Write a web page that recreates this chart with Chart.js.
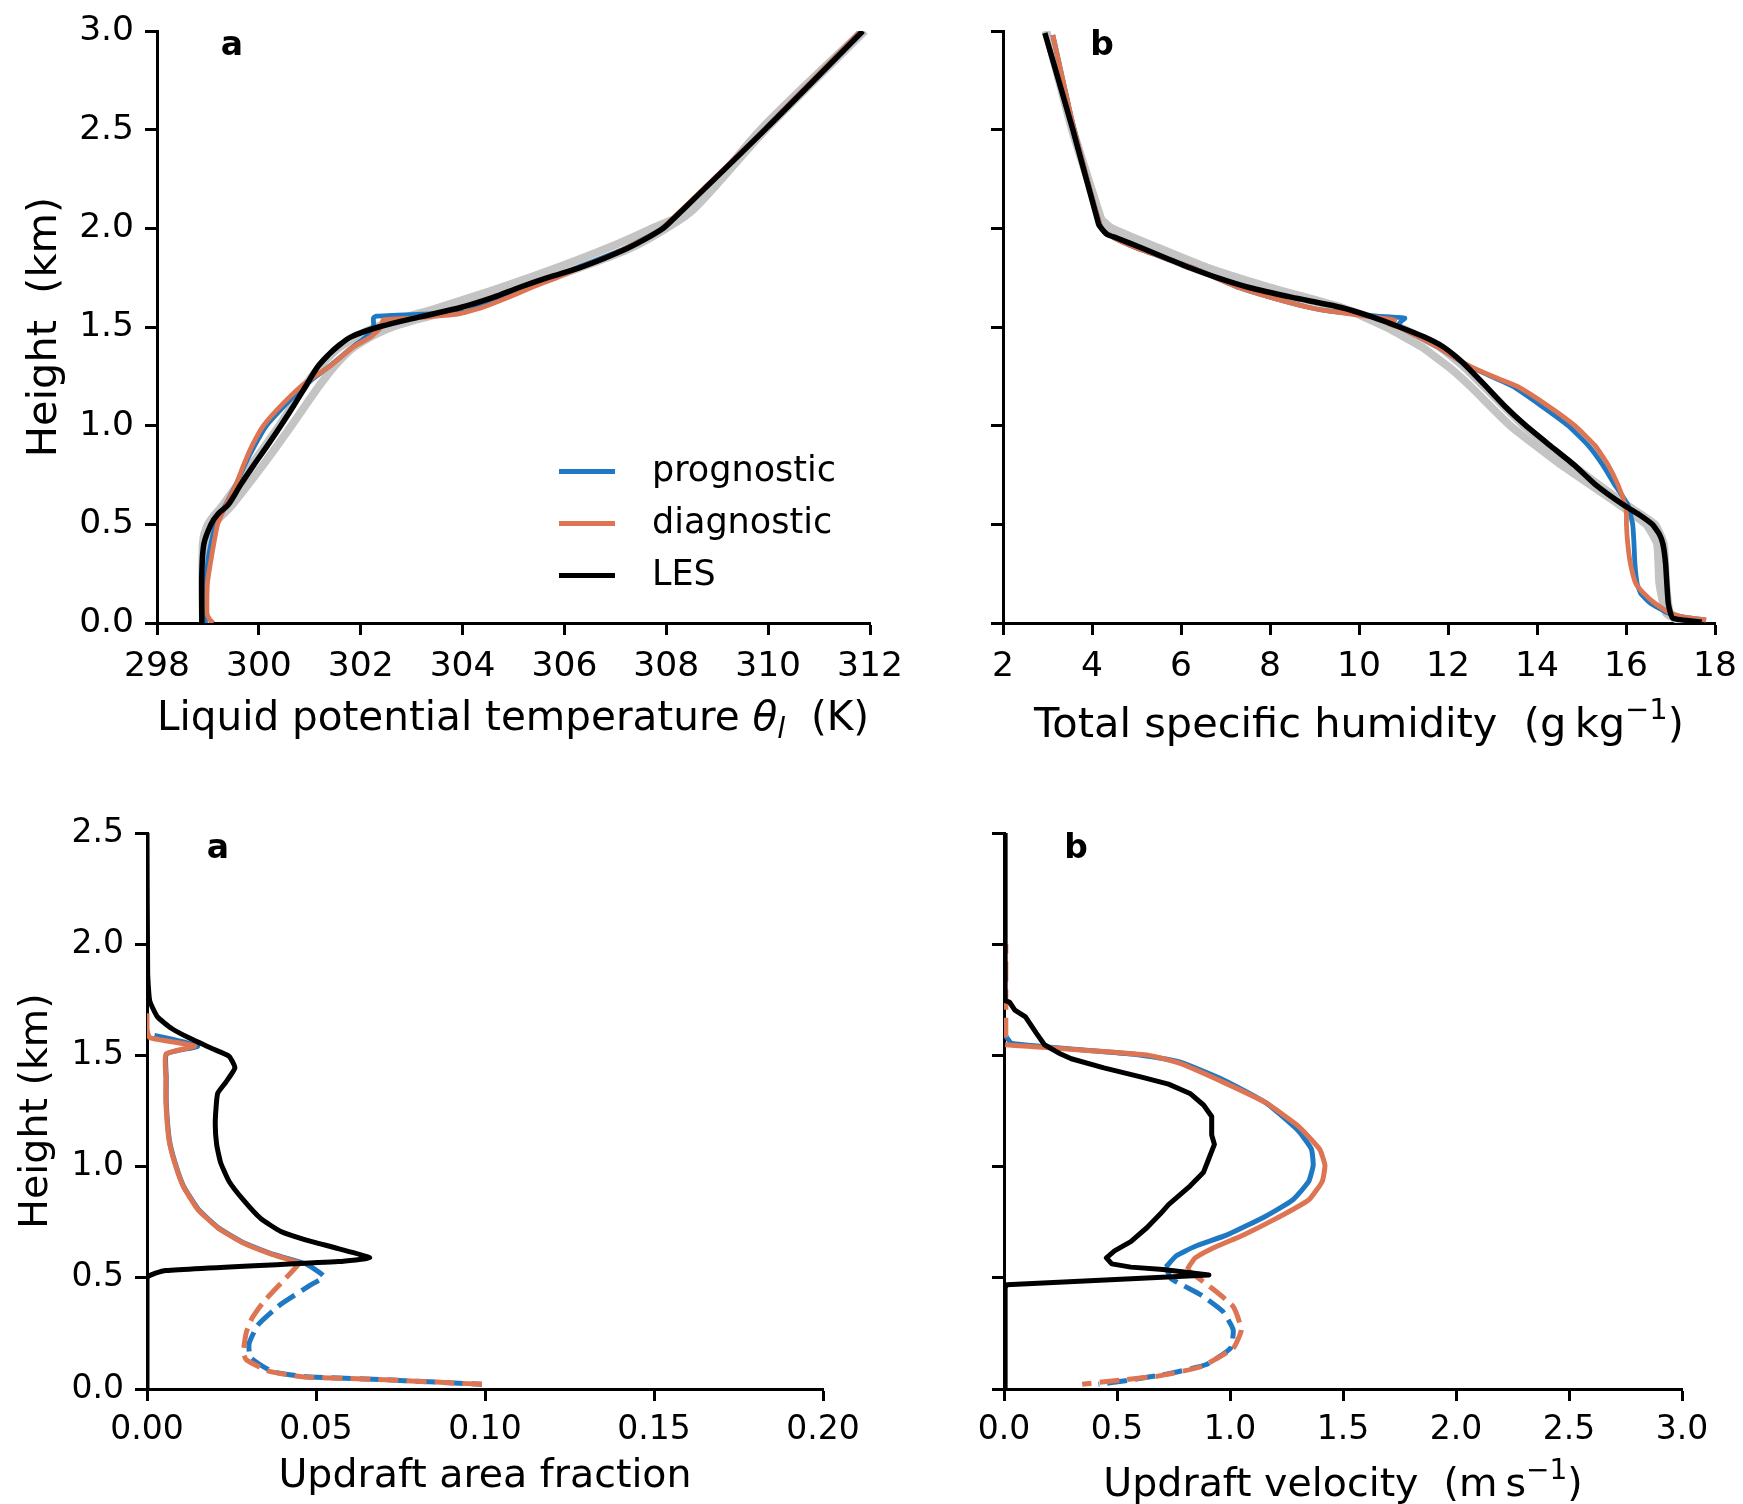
<!DOCTYPE html>
<html><head><meta charset="utf-8">
<script src="https://cdn.jsdelivr.net/npm/chart.js@4.4.1/dist/chart.umd.min.js"></script>
<style>
html,body{margin:0;padding:0;background:#fff;}
#wrap{position:relative;width:1743px;height:1504px;background:#fff;}
#wrap canvas{position:absolute;left:0;top:0;width:1743px;height:1504px;}
</style></head><body><div id="wrap">
<canvas id="c1" width="1743" height="1504"></canvas>
<canvas id="c2" width="1743" height="1504"></canvas>
<canvas id="c3" width="1743" height="1504"></canvas>
<canvas id="c4" width="1743" height="1504"></canvas>
</div>
<script>
// ---------------- DATA ----------------
// tick labels
const thetaTicks = [298, 300, 302, 304, 306, 308, 310, 312];
const qtTicks = [2, 4, 6, 8, 10, 12, 14, 16, 18];
const heightTicksTop = [0, 0.5, 1.0, 1.5, 2.0, 2.5, 3.0];
const areaTicks = [0, 0.05, 0.10, 0.15, 0.20];
const velTicks = [0, 0.5, 1.0, 1.5, 2.0, 2.5, 3.0];
const heightTicksBottom = [0, 0.5, 1.0, 1.5, 2.0, 2.5];
const legendLabels = ['prognostic', 'diagnostic', 'LES'];

// Panel a (top): liquid potential temperature (K) vs height (km)
const thetaLesZ   = [0.0, 0.25, 0.4, 0.5, 0.55, 0.6, 0.7, 0.8, 0.9, 1.0, 1.1, 1.2, 1.3, 1.36, 1.4, 1.45, 1.5, 1.55, 1.6, 1.65, 1.7, 1.75, 1.8, 1.85, 1.9, 1.95, 2.0, 2.05, 2.5, 3.0];
const thetaLesVal = [298.88, 298.88, 298.92, 299.06, 299.19, 299.40, 299.64, 299.90, 300.17, 300.43, 300.68, 300.92, 301.16, 301.37, 301.54, 301.81, 302.35, 303.14, 303.98, 304.60, 305.11, 305.67, 306.29, 306.80, 307.25, 307.62, 307.94, 308.15, 309.94, 311.86];
const thetaDiagZ   = [0.0, 0.02, 0.05, 0.2, 0.35, 0.5, 0.6, 0.7, 0.8, 0.9, 1.0, 1.1, 1.2, 1.25, 1.3, 1.4, 1.45, 1.5, 1.535, 1.545, 1.565, 1.6, 1.65, 1.7, 1.75, 1.8, 1.85, 1.9, 1.95, 2.0, 2.5, 3.0];
const thetaDiagVal = [299.10, 299.03, 298.98, 298.99, 299.08, 299.19, 299.36, 299.55, 299.70, 299.87, 300.09, 300.43, 300.83, 301.10, 301.39, 301.86, 302.20, 302.40, 302.44, 303.00, 303.90, 304.40, 304.90, 305.35, 305.85, 306.30, 306.80, 307.20, 307.60, 307.92, 309.92, 311.82];
const thetaProgZ   = [0.0, 0.2, 0.35, 0.5, 0.6, 0.7, 0.8, 0.9, 1.0, 1.1, 1.2, 1.3, 1.4, 1.45, 1.5, 1.545, 1.555, 1.565, 1.575, 1.6, 1.65, 1.7, 1.8, 1.9, 2.0, 2.5, 3.0];
const thetaProgVal = [298.95, 298.95, 299.02, 299.15, 299.35, 299.55, 299.72, 299.92, 300.15, 300.50, 300.88, 301.38, 301.85, 302.10, 302.25, 302.25, 302.30, 303.20, 304.05, 304.30, 304.85, 305.30, 306.25, 307.20, 307.92, 309.92, 311.82];
const thetaEnsZ   = [0.0, 0.4, 0.5, 0.6, 0.8, 1.0, 1.2, 1.3, 1.4, 1.5, 1.6, 1.7, 1.8, 1.9, 2.0, 2.1, 2.5, 3.0];
const thetaEnsLo  = [298.90, 298.90, 299.00, 299.30, 299.85, 300.40, 300.90, 301.20, 301.60, 302.30, 303.55, 304.75, 305.85, 306.85, 307.72, 308.50, 309.85, 311.85];
const thetaEnsHi  = [298.95, 298.95, 299.12, 299.48, 300.08, 300.64, 301.18, 301.48, 301.88, 302.62, 304.00, 305.20, 306.30, 307.30, 308.00, 308.55, 309.95, 311.90];

// Panel b (top): total specific humidity (g/kg) vs height (km)
const qtLesZ   = [0.005, 0.025, 0.1, 0.3, 0.4, 0.45, 0.5, 0.55, 0.6, 0.7, 0.8, 0.9, 1.0, 1.1, 1.2, 1.3, 1.35, 1.4, 1.45, 1.5, 1.55, 1.6, 1.65, 1.7, 1.75, 1.8, 1.85, 1.9, 1.95, 1.97, 2.0, 2.02, 2.5, 2.99];
const qtLesVal = [17.70, 17.05, 16.95, 16.89, 16.83, 16.75, 16.59, 16.29, 15.93, 15.32, 14.84, 14.29, 13.75, 13.27, 12.85, 12.42, 12.18, 11.89, 11.46, 10.91, 10.31, 9.58, 8.50, 7.53, 6.81, 6.20, 5.66, 5.12, 4.57, 4.33, 4.21, 4.15, 3.57, 2.94];
const qtDiagZ   = [0.015, 0.03, 0.05, 0.1, 0.15, 0.2, 0.3, 0.4, 0.5, 0.55, 0.6, 0.7, 0.8, 0.9, 1.0, 1.1, 1.2, 1.25, 1.3, 1.35, 1.4, 1.45, 1.5, 1.515, 1.535, 1.55, 1.58, 1.6, 1.65, 1.7, 1.8, 1.9, 1.95, 2.0, 2.5, 2.98];
const qtDiagVal = [17.80, 17.30, 17.00, 16.65, 16.40, 16.22, 16.10, 16.04, 16.01, 16.01, 15.98, 15.82, 15.60, 15.30, 14.85, 14.25, 13.55, 13.00, 12.50, 12.12, 11.76, 11.34, 10.90, 10.67, 10.80, 10.31, 9.34, 8.86, 8.02, 7.30, 6.26, 5.00, 4.51, 4.21, 3.60, 3.12];
const qtProgZ   = [0.015, 0.03, 0.05, 0.1, 0.15, 0.2, 0.3, 0.4, 0.5, 0.6, 0.7, 0.8, 0.9, 1.0, 1.1, 1.2, 1.3, 1.4, 1.45, 1.5, 1.52, 1.545, 1.555, 1.58, 1.6, 1.65, 1.7, 1.8, 1.9, 1.95, 2.0, 2.5, 2.98];
const qtProgVal = [17.80, 17.30, 16.95, 16.55, 16.33, 16.25, 16.20, 16.18, 16.15, 16.04, 15.75, 15.48, 15.15, 14.70, 14.10, 13.45, 12.48, 11.76, 11.34, 10.92, 10.91, 11.03, 10.40, 9.34, 8.86, 8.02, 7.30, 6.26, 5.00, 4.51, 4.21, 3.60, 3.12];
const qtEnsZ  = [0.0, 0.05, 0.2, 0.4, 0.5, 0.6, 0.8, 1.0, 1.2, 1.3, 1.4, 1.5, 1.6, 1.7, 1.8, 1.9, 2.0, 2.05, 2.5, 3.0];
const qtEnsLo = [17.30, 16.90, 16.75, 16.70, 16.45, 15.85, 14.55, 13.40, 12.50, 12.00, 11.40, 10.60, 9.60, 8.00, 6.60, 5.50, 4.45, 4.20, 3.55, 2.97];
const qtEnsHi = [17.50, 17.00, 16.90, 16.85, 16.65, 16.00, 14.80, 13.70, 12.80, 12.35, 11.80, 10.90, 9.55, 7.60, 6.25, 5.15, 4.25, 4.20, 3.57, 2.97];

// Panel a (bottom): updraft area fraction vs height (km)
const areaLesZ   = [0.0, 0.5, 0.533, 0.573, 0.59, 0.631, 0.673, 0.708, 0.767, 0.85, 0.933, 1.017, 1.1, 1.204, 1.329, 1.381, 1.444, 1.496, 1.531, 1.579, 1.621, 1.673, 1.746, 1.871, 2.5];
const areaLesVal = [0.0, 0.0, 0.0056, 0.0566, 0.0659, 0.0566, 0.0464, 0.0396, 0.0336, 0.0285, 0.0243, 0.0218, 0.0206, 0.0202, 0.0209, 0.0234, 0.0260, 0.0243, 0.0192, 0.0124, 0.0073, 0.0031, 0.0008, 0.0002, 0.0];
const areaDiagZ   = [0.569, 0.610, 0.6625, 0.725, 0.808, 0.9125, 1.017, 1.121, 1.2875, 1.4, 1.506, 1.542, 1.58, 1.62, 1.69];
const areaDiagVal = [0.0447, 0.0362, 0.0277, 0.0209, 0.0150, 0.0107, 0.0082, 0.0065, 0.0056, 0.0056, 0.0056, 0.0141, 0.0008, 0.0, 0.0];
const areaDiagSubZ   = [0.569, 0.558, 0.475, 0.392, 0.319, 0.256, 0.1625, 0.131, 0.079, 0.054, 0.044, 0.031, 0.021];
const areaDiagSubVal = [0.0447, 0.0447, 0.0396, 0.0345, 0.0311, 0.0294, 0.0285, 0.0294, 0.0362, 0.0464, 0.0668, 0.0855, 0.0991];
const areaProgZ   = [0.5625, 0.610, 0.6625, 0.725, 0.808, 0.9125, 1.017, 1.121, 1.2875, 1.4, 1.506, 1.542, 1.59];
const areaProgVal = [0.0472, 0.0365, 0.0280, 0.0211, 0.0152, 0.0108, 0.0083, 0.0066, 0.0057, 0.0057, 0.0058, 0.0150, 0.0022];
const areaProgSubZ   = [0.5625, 0.506, 0.465, 0.381, 0.2875, 0.204, 0.142, 0.079, 0.056, 0.044, 0.031, 0.021];
const areaProgSubVal = [0.0472, 0.0523, 0.0481, 0.0396, 0.0328, 0.0302, 0.0306, 0.0370, 0.0464, 0.0668, 0.0855, 0.0991];

// Panel b (bottom): updraft velocity (m/s) vs height (km)
const velLesZ   = [0.0, 0.454, 0.469, 0.5125, 0.5375, 0.548, 0.5625, 0.59, 0.621, 0.6625, 0.725, 0.7875, 0.829, 0.9125, 0.975, 1.0375, 1.1, 1.142, 1.225, 1.277, 1.329, 1.371, 1.402, 1.444, 1.485, 1.506, 1.548, 1.6, 1.673, 1.704, 1.74, 1.746, 2.05, 2.5];
const velLesVal = [0.005, 0.005, 0.012, 0.907, 0.704, 0.561, 0.477, 0.453, 0.489, 0.561, 0.632, 0.692, 0.728, 0.823, 0.883, 0.907, 0.931, 0.919, 0.919, 0.883, 0.823, 0.728, 0.609, 0.442, 0.298, 0.251, 0.179, 0.143, 0.095, 0.048, 0.024, 0.005, 0.005, 0.005];
const velDiagZ   = [0.5375, 0.558, 0.59, 0.631, 0.694, 0.767, 0.85, 0.933, 1.006, 1.079, 1.183, 1.2875, 1.381, 1.465, 1.502, 1.548];
const velDiagVal = [0.811, 0.823, 0.847, 0.919, 1.062, 1.205, 1.348, 1.408, 1.420, 1.396, 1.301, 1.158, 0.967, 0.776, 0.632, 0.005];
const velDiagSubZ   = [0.5375, 0.527, 0.454, 0.371, 0.267, 0.183, 0.1, 0.058, 0.0375, 0.021];
const velDiagSubVal = [0.811, 0.823, 0.919, 1.014, 1.050, 1.014, 0.871, 0.680, 0.489, 0.346];
const velDiagTopZ   = [1.58, 2.0];
const velDiagTopVal = [0.008, 0.008];
const velProgZ   = [0.548, 0.6, 0.642, 0.694, 0.777, 0.85, 0.933, 1.006, 1.079, 1.1625, 1.2875, 1.392, 1.471, 1.504, 1.554, 1.59];
const velProgVal = [0.716, 0.764, 0.847, 0.990, 1.158, 1.277, 1.348, 1.368, 1.360, 1.301, 1.158, 0.967, 0.776, 0.585, 0.036, 0.005];
const velProgSubZ   = [0.548, 0.496, 0.423, 0.35, 0.267, 0.183, 0.11, 0.069, 0.0375, 0.021];
const velProgSubVal = [0.716, 0.740, 0.871, 0.967, 1.014, 1.002, 0.895, 0.728, 0.537, 0.418];

// ---------------- STYLE / HELPERS ----------------
const FAM = "'DejaVu Sans', 'Liberation Sans', sans-serif";
const BLUE = '#1f78c4', ORANGE = '#dd7553', BLACK = '#000000', GRAY = '#c4c4c4';
const W = 1743, H = 1504;

function pts(vals, zs) { return vals.map((v, i) => ({ x: v, y: zs[i] })); }
function line(data, color, width, dash, tension) {
  return { data, showLine: true, borderColor: color, backgroundColor: color, borderWidth: width,
    pointRadius: 0, pointHoverRadius: 0, borderDash: dash || [], tension: tension === undefined ? 0.15 : tension,
    fill: false, borderJoinStyle: 'round', borderCapStyle: 'butt' };
}

function drawRuns(ctx, it) {
  ctx.save();
  ctx.translate(it.x, it.y);
  if (it.rot) ctx.rotate(it.rot);
  ctx.textBaseline = 'alphabetic';
  ctx.textAlign = 'left';
  ctx.fillStyle = '#000';
  let total = 0;
  const widths = it.runs.map(r => { ctx.font = r.f; const w = ctx.measureText(r.t).width; total += w; return w; });
  let x = it.align === 'left' ? 0 : -total / 2;
  it.runs.forEach((r, i) => { ctx.font = r.f; ctx.fillText(r.t, x, r.dy || 0); x += widths[i]; });
  ctx.restore();
}

const textPlugin = {
  id: 'panelText',
  afterDraw(chart, args, opts) {
    const ctx = chart.ctx;
    (opts.items || []).forEach(it => drawRuns(ctx, it));
    if (opts.legend) {
      const L = opts.legend;
      L.labels.forEach((lab, i) => {
        const y = L.y0 + i * L.dy;
        ctx.save();
        ctx.strokeStyle = L.colors[i];
        ctx.lineWidth = L.lw;
        ctx.lineCap = 'butt';
        ctx.beginPath(); ctx.moveTo(L.x0, y); ctx.lineTo(L.x1, y); ctx.stroke();
        ctx.fillStyle = '#000';
        ctx.font = L.font;
        ctx.textBaseline = 'middle';
        ctx.textAlign = 'left';
        ctx.fillText(lab, L.tx, y);
        ctx.restore();
      });
    }
  }
};
Chart.register(textPlugin);

function axis(horizontal, min, max, tickVals, fmt, size, showLabels, tickSize, pad) {
  return {
    type: 'linear', min, max,
    afterBuildTicks: s => { s.ticks = tickVals.map(v => ({ value: v })); },
    afterFit: s => {
      if (horizontal) { s.height = size; s.paddingLeft = 0; s.paddingRight = 0; }
      else { s.width = size; s.paddingTop = 0; s.paddingBottom = 0; }
    },
    ticks: {
      autoSkip: false, maxRotation: 0, minRotation: 0, color: '#000',
      padding: pad,
      font: { family: FAM, size: tickSize },
      callback: v => showLabels ? fmt(v) : ''
    },
    grid: { display: true, drawOnChartArea: false, drawTicks: true, tickLength: 12, tickWidth: 3, tickColor: '#000' },
    border: { display: true, color: '#000', width: 3 }
  };
}

function makeChart(id, box, datasets, xAxis, yAxis, textOpts) {
  return new Chart(document.getElementById(id), {
    type: 'scatter',
    data: { datasets },
    options: {
      responsive: false, animation: false, events: [],
      layout: { padding: { top: box.top, right: W - box.right, left: 0, bottom: 0 } },
      plugins: { legend: { display: false }, tooltip: { enabled: false }, panelText: textOpts },
      scales: { x: xAxis, y: yAxis }
    }
  });
}

const f0 = v => String(Math.round(v));
const f1 = v => v.toFixed(1);
const f2 = v => v.toFixed(2);
const LFA = '40.5px ' + FAM;            // top-left x label
const LFAi = 'italic 40.5px ' + FAM;
const SFAi = 'italic 28.5px ' + FAM;
const LFT = '41.5px ' + FAM;            // other top-row axis labels
const SFT = '29px ' + FAM;
const LFB = '39.5px ' + FAM;            // bottom-row axis labels
const SFB = '28px ' + FAM;
const BF = 'bold 33px ' + FAM;
const DASH = [20, 8];

// ---------------- PANELS ----------------
const boxTL = { left: 157, top: 31, right: 870, bottom: 623 };
makeChart('c1', boxTL, [
  line(pts(thetaLesVal, thetaLesZ), BLACK, 5.5, [], 0.3),
  line(pts(thetaDiagVal, thetaDiagZ), ORANGE, 4.8),
  line(pts(thetaProgVal, thetaProgZ), BLUE, 4.8),
  line(pts(thetaEnsLo, thetaEnsZ), GRAY, 8, [], 0.3),
  line(pts(thetaEnsHi, thetaEnsZ), GRAY, 8, [], 0.3)
],
  axis(true, 298, 312, thetaTicks, f0, H - boxTL.bottom, true, 34.5, 11),
  axis(false, 0, 3, heightTicksTop, f1, boxTL.left, true, 34.5, 11),
  { items: [
      { x: 232, y: 55, runs: [{ t: 'a', f: BF }] },
      { x: 513, y: 730, runs: [{ t: 'Liquid potential temperature ', f: LFA }, { t: 'θ', f: LFAi }, { t: 'l', f: SFAi, dy: 8 }, { t: '  (K)', f: LFA }] },
      { x: 56, y: 327, rot: -Math.PI / 2, runs: [{ t: 'Height  (km)', f: LFT }] }
    ],
    legend: { labels: legendLabels, colors: [BLUE, ORANGE, BLACK], x0: 559, x1: 615, tx: 652, y0: 471.5, dy: 52, lw: 5, font: '35px ' + FAM }
  });

const boxTR = { left: 1003, top: 31, right: 1715, bottom: 623 };
makeChart('c2', boxTR, [
  line(pts(qtLesVal, qtLesZ), BLACK, 5.5),
  line(pts(qtDiagVal, qtDiagZ), ORANGE, 4.8),
  line(pts(qtProgVal, qtProgZ), BLUE, 4.8),
  line(pts(qtEnsLo, qtEnsZ), GRAY, 8),
  line(pts(qtEnsHi, qtEnsZ), GRAY, 8)
],
  axis(true, 2, 18, qtTicks, f0, H - boxTR.bottom, true, 34.5, 11),
  axis(false, 0, 3, heightTicksTop, f1, boxTR.left, false, 34.5, 11),
  { items: [
      { x: 1102, y: 55, runs: [{ t: 'b', f: BF }] },
      { x: 1359, y: 737, runs: [{ t: 'Total specific humidity  (g', f: LFT }, { t: '\u2009kg', f: LFT }, { t: '\u22121', f: SFT, dy: -18 }, { t: ')', f: LFT }] }
    ] });

const boxBL = { left: 147, top: 833, right: 823, bottom: 1389 };
makeChart('c3', boxBL, [
  line(pts(areaLesVal, areaLesZ), BLACK, 5),
  line(pts(areaDiagVal, areaDiagZ), ORANGE, 5),
  line(pts(areaDiagSubVal, areaDiagSubZ), ORANGE, 5, DASH),
  line(pts(areaProgVal, areaProgZ), BLUE, 5),
  line(pts(areaProgSubVal, areaProgSubZ), BLUE, 5, DASH)
],
  axis(true, 0, 0.2, areaTicks, f2, H - boxBL.bottom, true, 33, 10),
  axis(false, 0, 2.5, heightTicksBottom, f1, boxBL.left, true, 33, 11),
  { items: [
      { x: 218, y: 858, runs: [{ t: 'a', f: BF }] },
      { x: 485, y: 1487, runs: [{ t: 'Updraft area fraction', f: LFB }] },
      { x: 47, y: 1111, rot: -Math.PI / 2, runs: [{ t: 'Height (km)', f: LFB }] }
    ] });

const boxBR = { left: 1004, top: 833, right: 1682, bottom: 1389 };
makeChart('c4', boxBR, [
  line(pts(velLesVal, velLesZ), BLACK, 5, [], 0),
  line(pts(velDiagVal, velDiagZ), ORANGE, 5),
  line(pts(velDiagSubVal, velDiagSubZ), ORANGE, 5, DASH),
  line(pts(velDiagTopVal, velDiagTopZ), ORANGE, 5, DASH),
  line(pts(velProgVal, velProgZ), BLUE, 5),
  line(pts(velProgSubVal, velProgSubZ), BLUE, 5, DASH)
],
  axis(true, 0, 3, velTicks, f1, H - boxBR.bottom, true, 33, 10),
  axis(false, 0, 2.5, heightTicksBottom, f1, boxBR.left, false, 33, 11),
  { items: [
      { x: 1076, y: 858, runs: [{ t: 'b', f: BF }] },
      { x: 1343, y: 1496, runs: [{ t: 'Updraft velocity  (m', f: LFB }, { t: '\u2009s', f: LFB }, { t: '\u22121', f: SFB, dy: -17 }, { t: ')', f: LFB }] }
    ] });
</script>
</body></html>
